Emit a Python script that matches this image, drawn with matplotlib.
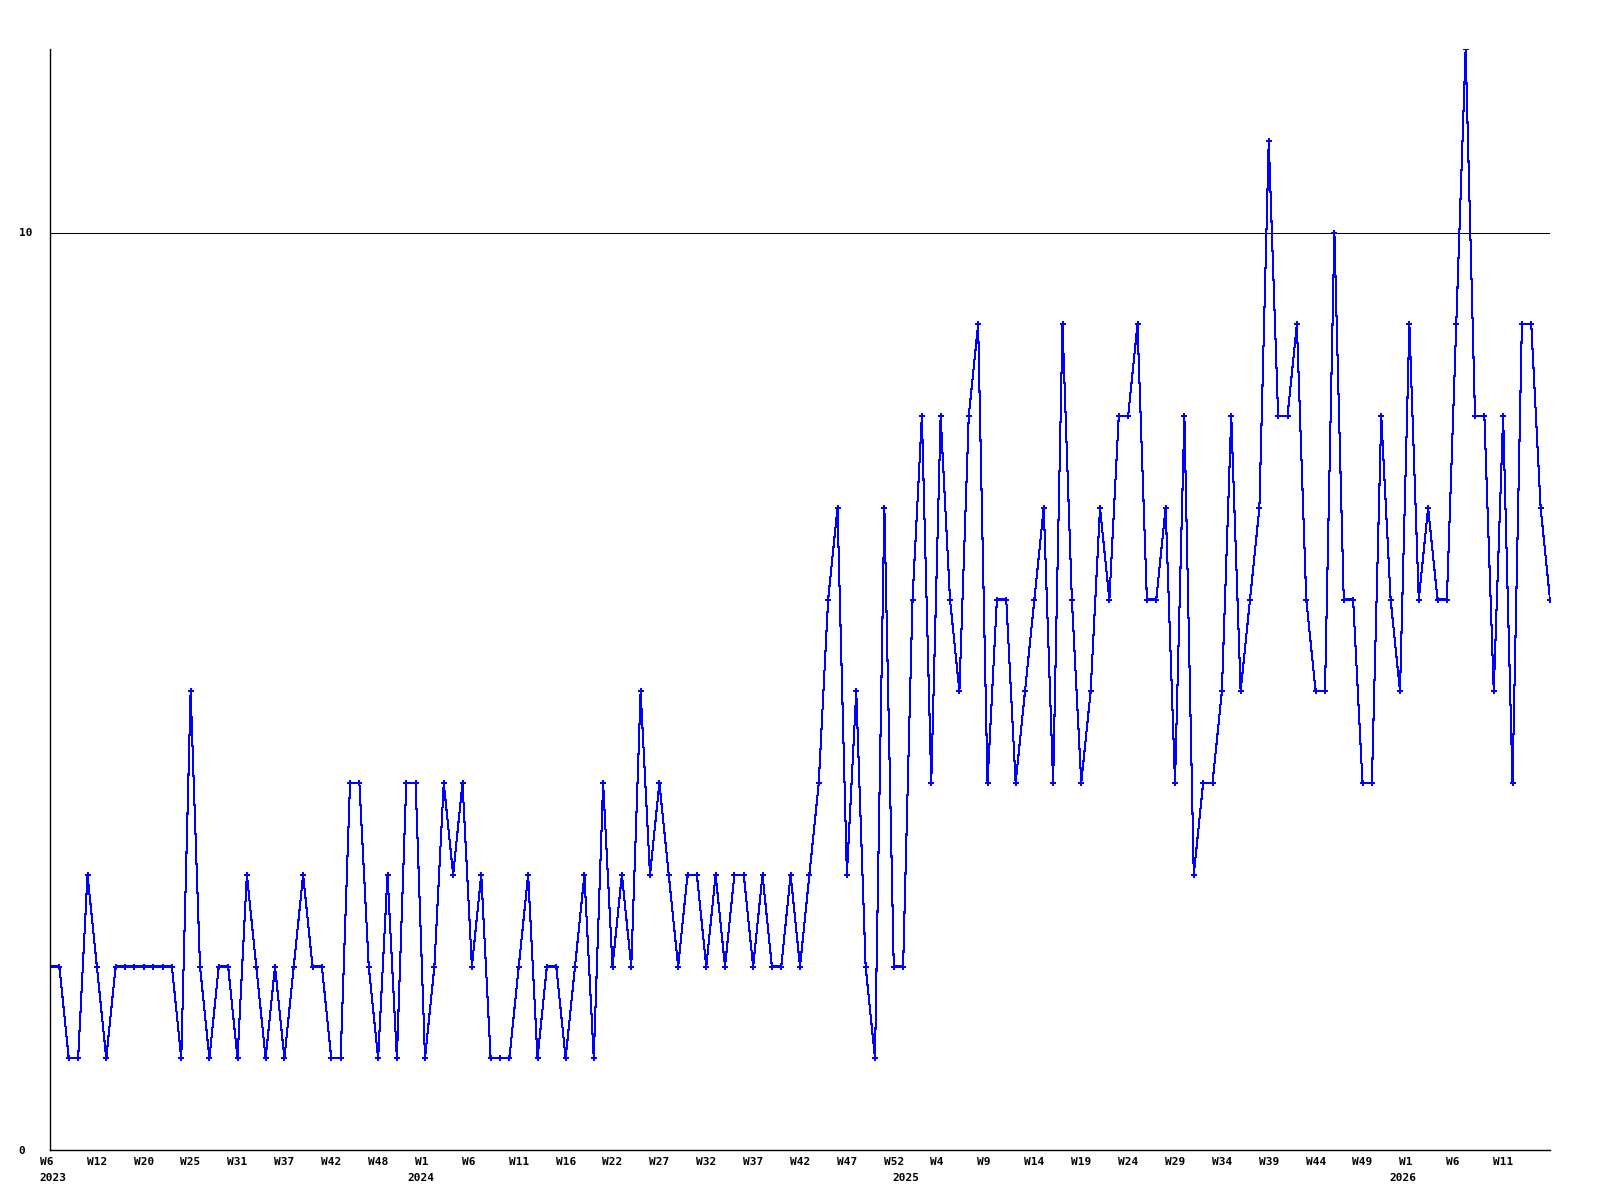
import matplotlib
matplotlib.use("Agg")
import matplotlib.pyplot as plt
import matplotlib.transforms as mtransforms

# weekly counts, one value per point (W6 2023 onward)
values = [
    2, 2, 1, 1, 3, 2, 1, 2, 2, 2,
    2, 2, 2, 2, 1, 5, 2, 1, 2, 2,
    1, 3, 2, 1, 2, 1, 2, 3, 2, 2,
    1, 1, 4, 4, 2, 1, 3, 1, 4, 4,
    1, 2, 4, 3, 4, 2, 3, 1, 1, 1,
    2, 3, 1, 2, 2, 1, 2, 3, 1, 4,
    2, 3, 2, 5, 3, 4, 3, 2, 3, 3,
    2, 3, 2, 3, 3, 2, 3, 2, 2, 3,
    2, 3, 4, 6, 7, 3, 5, 2, 1, 7,
    2, 2, 6, 8, 4, 8, 6, 5, 8, 9,
    4, 6, 6, 4, 5, 6, 7, 4, 9, 6,
    4, 5, 7, 6, 8, 8, 9, 6, 6, 7,
    4, 8, 3, 4, 4, 5, 8, 5, 6, 7,
    11, 8, 8, 9, 6, 5, 5, 10, 6, 6,
    4, 4, 8, 6, 5, 9, 6, 7, 6, 6,
    9, 12, 8, 8, 5, 8, 4, 9, 9, 7,
    6,
]

week_labels = ["W6", "W12", "W20", "W25", "W31", "W37", "W42", "W48",
               "W1", "W6", "W11", "W16", "W22", "W27", "W32", "W37",
               "W42", "W47", "W52", "W4", "W9", "W14", "W19", "W24",
               "W29", "W34", "W39", "W44", "W49", "W1", "W6", "W11"]
label_step = 5

years = ["2023", "2024", "2025", "2026"]
year_pos = [0.35, 39.6, 91.3, 144.3]

font = dict(family="DejaVu Sans Mono", weight="bold", size=8)

fig = plt.figure(figsize=(16, 12), dpi=100)
ax = fig.add_axes([50 / 1600, 50 / 1200, 1500 / 1600, 1101 / 1200])

x = list(range(len(values)))
ax.plot(x, values, color="#0000ff", linewidth=0.75, marker="P",
        markersize=4, markeredgewidth=0, antialiased=False)

ax.set_xlim(0, len(values) - 1)
ax.set_ylim(0, 12)

ax.set_yticks([0, 10])
ax.set_yticklabels(["0", "10"], fontdict=font, ha="left")
ax.tick_params(axis="y", length=0, pad=22.5)
ax.grid(axis="y", color="black", linewidth=0.75)
ax.set_axisbelow(True)

ticks = [i * label_step for i in range(len(week_labels))]
ax.set_xticks(ticks)
# pad short labels so they sit like the monospace originals
ax.set_xticklabels([w.ljust(3) for w in week_labels], fontdict=font)
ax.tick_params(axis="x", length=0, pad=5)

trans = mtransforms.blended_transform_factory(ax.transData, ax.transAxes)
for yr, xp in zip(years, year_pos):
    ax.text(xp, -23 / 1101, yr, transform=trans, ha="center", va="top", **font)

for side in ["top", "right"]:
    ax.spines[side].set_visible(False)
for side in ["left", "bottom"]:
    ax.spines[side].set_color("black")
    ax.spines[side].set_linewidth(1.0)

fig.savefig("out.png", dpi=100)
